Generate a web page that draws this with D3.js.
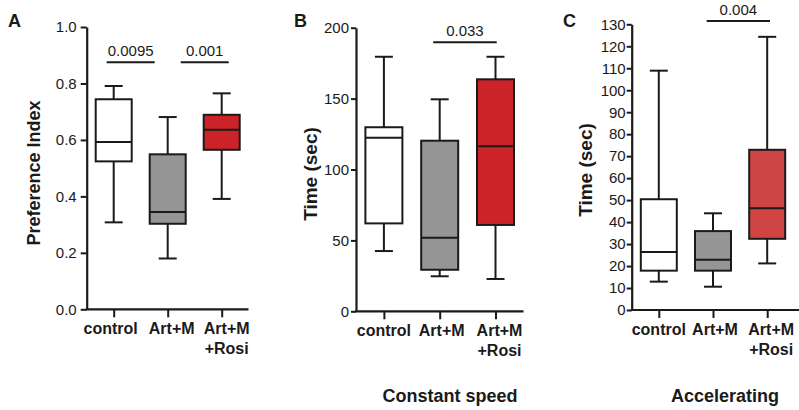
<!DOCTYPE html>
<html><head><meta charset="utf-8">
<script src="https://cdn.jsdelivr.net/npm/d3@7"></script>
<style>
html,body{margin:0;padding:0;background:#fff;}
svg{display:block;font-family:"Liberation Sans",Arial,sans-serif;}
</style></head>
<body>
<svg id="chart" width="799" height="410"></svg>
<script>
// ---- data ----
const categories = ["control", "Art+M", "Art+M|+Rosi"];
const boxColorsAB = ["#ffffff", "#959595", "#cc2329"];
const boxColorsC = ["#ffffff", "#959595", "#cf4444"];

// Panel A: Preference Index
const A_min = [0.308, 0.180, 0.391];
const A_q1  = [0.524, 0.303, 0.565];
const A_med = [0.593, 0.345, 0.636];
const A_q3  = [0.744, 0.549, 0.689];
const A_max = [0.791, 0.681, 0.765];
const A_ticks = [0.0, 0.2, 0.4, 0.6, 0.8, 1.0];
const A_sig = [{from: 0, to: 1, label: "0.0095", y: 0.875}, {from: 1, to: 2, label: "0.001", y: 0.875}];

// Panel B: Constant speed
const B_min = [42.5, 24.7, 22.8];
const B_q1  = [62.0, 29.3, 60.9];
const B_med = [122.4, 51.9, 116.4];
const B_q3  = [129.8, 120.3, 163.6];
const B_max = [179.5, 149.5, 179.5];
const B_ticks = [0, 50, 100, 150, 200];
const B_sig = [{from: 1, to: 2, label: "0.033", y: 189.7}];

// Panel C: Accelerating
const C_min = [12.9, 10.6, 21.2];
const C_q1  = [17.9, 17.9, 32.4];
const C_med = [26.4, 22.9, 46.3];
const C_q3  = [50.4, 35.9, 72.9];
const C_max = [108.9, 44.0, 124.3];
const C_ticks = [0, 10, 20, 30, 40, 50, 60, 70, 80, 90, 100, 110, 120, 130];
const C_sig = [{from: 1, to: 2, label: "0.004", y: 131.5}];

const svg = d3.select("#chart");
const ink = "#1a1a1a";

function panel(cfg) {
  const g = svg.append("g");
  const x = d3.scalePoint().domain(categories).range([cfg.x0, cfg.x0 + cfg.step * 3]).padding(0.5);
  const y = d3.scaleLinear().domain([cfg.ymin, cfg.ymax]).range([cfg.yb, cfg.yt]);

  // y axis
  const ya = g.append("g").attr("transform", `translate(${cfg.x0},0)`)
    .call(d3.axisLeft(y).tickValues(cfg.ticks).tickFormat(cfg.fmt).tickSize(cfg.tickLen).tickPadding(cfg.tickPad).tickSizeOuter(0));
  ya.select(".domain").attr("stroke", ink).attr("stroke-width", 2.2);
  ya.selectAll(".tick line").attr("stroke", ink).attr("stroke-width", 2);
  ya.selectAll(".tick text").attr("fill", ink).attr("font-size", cfg.tickFont).attr("font-family", "Liberation Sans, Arial, sans-serif");

  // x axis
  const xa = g.append("g").attr("transform", `translate(0,${cfg.yb})`)
    .call(d3.axisBottom(x).tickSize(8).tickFormat("").tickSizeOuter(0));
  xa.select(".domain").attr("d", `M${cfg.x0 - 1},0H${cfg.xEnd}`).attr("stroke", ink).attr("stroke-width", 2.2);
  xa.selectAll(".tick line").attr("stroke", ink).attr("stroke-width", 2);

  // category labels
  categories.forEach((c, i) => {
    const lines = c.split("|");
    const t = g.append("text").attr("text-anchor", "middle")
      .attr("font-weight", "bold").attr("font-size", 16).attr("fill", ink);
    lines.forEach((ln, j) => {
      t.append("tspan").attr("x", x(c) + cfg.labelShift[i]).attr("y", cfg.yb + 25 + j * 20).text(ln);
    });
  });

  // boxes
  const hw = cfg.boxW / 2, cw = 9;
  categories.forEach((c, i) => {
    const cx = x(c);
    g.append("line").attr("x1", cx).attr("x2", cx).attr("y1", y(cfg.max[i])).attr("y2", y(cfg.q3[i])).attr("stroke", ink).attr("stroke-width", 2);
    g.append("line").attr("x1", cx).attr("x2", cx).attr("y1", y(cfg.q1[i])).attr("y2", y(cfg.min[i])).attr("stroke", ink).attr("stroke-width", 2);
    g.append("line").attr("x1", cx - cw).attr("x2", cx + cw).attr("y1", y(cfg.max[i])).attr("y2", y(cfg.max[i])).attr("stroke", ink).attr("stroke-width", 2);
    g.append("line").attr("x1", cx - cw).attr("x2", cx + cw).attr("y1", y(cfg.min[i])).attr("y2", y(cfg.min[i])).attr("stroke", ink).attr("stroke-width", 2);
    g.append("rect").attr("x", cx - hw).attr("y", y(cfg.q3[i])).attr("width", cfg.boxW)
      .attr("height", y(cfg.q1[i]) - y(cfg.q3[i])).attr("fill", cfg.colors[i]).attr("stroke", ink).attr("stroke-width", 2);
    g.append("line").attr("x1", cx - hw).attr("x2", cx + hw).attr("y1", y(cfg.med[i])).attr("y2", y(cfg.med[i])).attr("stroke", ink).attr("stroke-width", 2);
  });

  // significance bars
  cfg.sig.forEach((s, k) => {
    const off = cfg.sigOff[k];
    const x1 = x(categories[s.from]) + off[0], x2 = x(categories[s.to]) + off[1];
    g.append("line").attr("x1", x1).attr("x2", x2).attr("y1", y(s.y)).attr("y2", y(s.y)).attr("stroke", ink).attr("stroke-width", 2);
    g.append("text").attr("x", (x1 + x2) / 2).attr("y", y(s.y) - 6).attr("text-anchor", "middle")
      .attr("font-size", 15).attr("fill", ink).text(s.label);
  });

  // y label
  g.append("text").attr("transform", `translate(${cfg.ylabX},${cfg.ylabY}) rotate(-90)`)
    .attr("text-anchor", "middle").attr("font-weight", "bold").attr("font-size", cfg.ylabFont).attr("fill", ink).text(cfg.ylab);

  // panel letter
  g.append("text").attr("x", cfg.letterX).attr("y", 27).attr("font-weight", "bold").attr("font-size", 18).attr("fill", ink).text(cfg.letter);

  // subtitle
  if (cfg.sub) {
    g.append("text").attr("x", cfg.subX).attr("y", 402).attr("text-anchor", "middle")
      .attr("font-weight", "bold").attr("font-size", 18).attr("fill", ink).text(cfg.sub);
  }
}

panel({x0: 86.7, step: 54, xEnd: 248.5, yb: 309.3, yt: 27, ymin: 0, ymax: 1.0,
  ticks: A_ticks, fmt: d3.format(".1f"), tickLen: 6, tickPad: 4, tickFont: 15,
  min: A_min, q1: A_q1, med: A_med, q3: A_q3, max: A_max, colors: boxColorsAB, boxW: 36,
  sig: A_sig, sigOff: [[-7, -13], [13, 7]],
  ylab: "Preference Index", ylabFont: 18, ylabX: 40, ylabY: 173, letter: "A", letterX: 8,
  labelShift: [-3, 4, 5]});

panel({x0: 356, step: 55.8, xEnd: 523.5, yb: 311.3, yt: 27.7, ymin: 0, ymax: 200,
  ticks: B_ticks, fmt: d3.format("d"), tickLen: 5, tickPad: 2, tickFont: 15,
  min: B_min, q1: B_q1, med: B_med, q3: B_q3, max: B_max, colors: boxColorsAB, boxW: 37,
  sig: B_sig, sigOff: [[-6.5, 1.2]],
  ylab: "Time (sec)", ylabFont: 19, ylabX: 317, ylabY: 174, letter: "B", letterX: 294,
  sub: "Constant speed", subX: 450, labelShift: [0, 2, 4]});

panel({x0: 631.7, step: 54.2, xEnd: 799, yb: 310, yt: 24.3, ymin: 0, ymax: 130,
  ticks: C_ticks, fmt: d3.format("d"), tickLen: 5, tickPad: 1, tickFont: 15,
  min: C_min, q1: C_q1, med: C_med, q3: C_q3, max: C_max, colors: boxColorsC, boxW: 36,
  sig: C_sig, sigOff: [[-6.3, 2.8]],
  ylab: "Time (sec)", ylabFont: 19, ylabX: 592, ylabY: 170, letter: "C", letterX: 563,
  sub: "Accelerating", subX: 725, labelShift: [0, 2, 4]});
</script>
</body></html>
